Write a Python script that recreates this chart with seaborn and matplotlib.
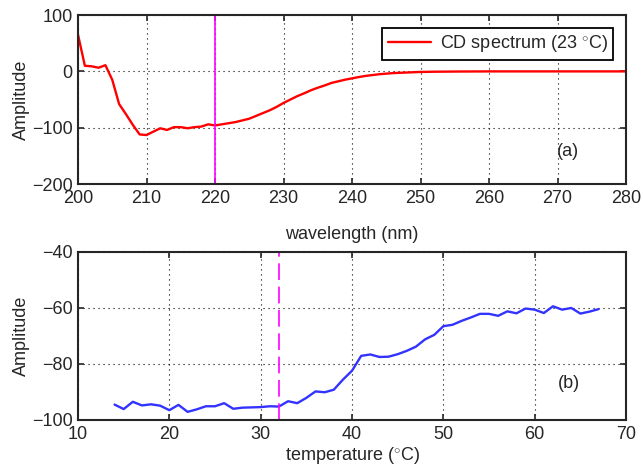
import matplotlib
matplotlib.use('Agg')
import matplotlib.pyplot as plt
import seaborn as sns
import pandas as pd

# CD spectrum at 23 C (panel a)
wavelength = list(range(200, 281))
cd_amp = [65, 10, 9, 6.5, 11, -15, -58, -76, -95, -112,
          -113, -107, -101, -104, -99, -99, -101, -99, -98, -94,
          -96, -94, -92, -90, -87, -84, -79, -74, -69, -63,
          -56, -50, -44, -39, -33.5, -29, -25, -20.5, -17.6, -14.7,
          -12.4, -10, -8, -6.5, -5, -4, -3, -2.5, -2, -1.5,
          -1, -0.8, -0.6, -0.5, -0.4, -0.3, -0.2, -0.2, -0.1, -0.1,
          0, 0, 0, 0, 0, 0, 0, 0, 0, 0,
          0, 0, 0, 0, 0, 0, 0, 0, 0, 0, 0]

# amplitude at 220 nm vs temperature (panel b)
temperature = list(range(14, 68))
temp_amp = [-94.5, -96.1, -93.5, -94.8, -94.4, -94.9, -96.5, -94.6, -97.1, -96.2,
            -95.1, -95.1, -94.0, -96.0, -95.6, -95.5, -95.4, -95.1, -95.2, -93.3,
            -94.0, -92.1, -89.8, -90.1, -89.2, -85.6, -82.4, -77.1, -76.6, -77.5,
            -77.4, -76.5, -75.3, -73.8, -71.2, -69.6, -66.5, -66.0, -64.6, -63.4,
            -62.1, -62.1, -62.8, -61.2, -61.9, -60.2, -60.6, -61.8, -59.4, -60.6,
            -60.0, -62.0, -61.3, -60.4]

spec = pd.DataFrame({'wavelength': wavelength, 'amp': cd_amp})
melt = pd.DataFrame({'temperature': temperature, 'amp': temp_amp})

sns.set_style('ticks')
plt.rcParams['font.family'] = ['Liberation Sans', 'DejaVu Sans']
plt.rcParams['mathtext.fontset'] = 'custom'
plt.rcParams['mathtext.rm'] = 'Liberation Sans'
plt.rcParams['font.size'] = 13

fig = plt.figure(figsize=(6.41, 4.68), dpi=100)
ax1 = fig.add_axes([0.1217, 0.6068, 0.855, 0.361])
ax2 = fig.add_axes([0.1217, 0.1026, 0.855, 0.359])

# panel a
sns.lineplot(data=spec, x='wavelength', y='amp', ax=ax1, color='#ff0000', lw=1.7,
             label=r'CD spectrum (23 $^{\circ}$C)')
ax1.axvline(220, color='#ff00ff', lw=1.2)
ax1.set_xlim(200, 280)
ax1.set_ylim(-200, 100)
ax1.set_xticks(range(200, 281, 10))
ax1.set_yticks([-200, -100, 0, 100])
ax1.set_xlabel('wavelength (nm)', labelpad=14)
ax1.set_ylabel('Amplitude', labelpad=1)
ax1.text(271.5, -143, '(a)', ha='center', va='center')
leg = ax1.legend(loc='upper right', fancybox=False, framealpha=1, edgecolor='black',
                 handlelength=2.4, borderaxespad=0.7, borderpad=0.3,
                 handletextpad=0.5)
leg.get_frame().set_linewidth(1.3)

# panel b
sns.lineplot(data=melt, x='temperature', y='amp', ax=ax2, color='#3333ff', lw=1.7)
ax2.axvline(32, color='#ff00ff', lw=1.2, dashes=(10, 4))
ax2.set_xlim(10, 70)
ax2.set_ylim(-100, -40)
ax2.set_xticks(range(10, 71, 10))
ax2.set_yticks([-100, -80, -60, -40])
ax2.set_xlabel(r'temperature ($^{\circ}$C)', labelpad=1.5)
ax2.set_ylabel('Amplitude', labelpad=1)
ax2.text(63.8, -86.8, '(b)', ha='center', va='center')

for ax in (ax1, ax2):
    ax.grid(True, color='black', linestyle=(0, (1, 3.5)), lw=0.8)
    ax.tick_params(direction='in', top=True, right=True, length=4, width=1.2,
                   labelsize=13, pad=4)
    for s in ax.spines.values():
        s.set_linewidth(1.5)
        s.set_visible(True)

fig.savefig('out.png', dpi=100)
